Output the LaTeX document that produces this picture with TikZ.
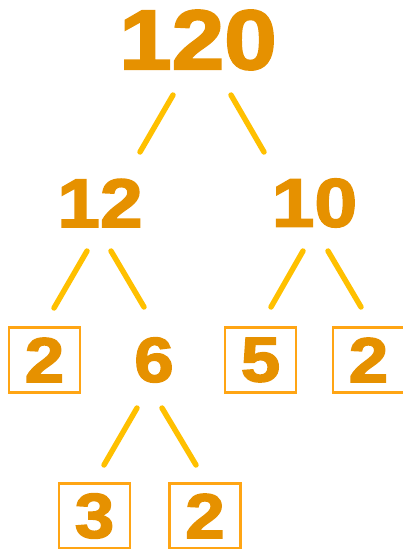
\documentclass[tikz,border=0pt]{standalone}
\usepackage{fontspec}
\newfontfamily\digitfont{Liberation Sans}[FakeStretch=1.12,FakeBold=2.5]
\usetikzlibrary{calc}
\definecolor{fac_orange}{RGB}{230,145,0}
\definecolor{box_orange}{RGB}{255,165,20}
\definecolor{branch_yellow}{RGB}{255,192,0}

\begin{document}
\begin{tikzpicture}[x=0.02cm, y=0.02cm,
      num/.style={text=fac_orange, inner sep=0pt,
        font=\digitfont\bfseries\fontsize{36}{36}\selectfont},
      top/.style={num, font=\digitfont\bfseries\fontsize{48}{48}\selectfont},
      mid/.style={num, font=\digitfont\bfseries\fontsize{39}{39}\selectfont},
      prime/.style={num, draw=box_orange, line width=1.2pt,
        minimum width=1.42cm, minimum height=1.30cm},
      branch/.style={draw=branch_yellow, line width=3.1pt, line cap=round}]

    \useasboundingbox (0,0) rectangle (403,-549);

    %% ---- the numbers ----------------------------------------------------
    \node[top]   (n120) at (198,-40)   {120};

    \node[mid]   (n12)  at (100,-203)  {12};
    \node[mid]   (n10)  at (314.5,-203) {10};

    \node[prime] (p2a)  at (44.5,-360) {2};
    \node[num]   (n6)   at (154,-360)  {6};
    \node[prime] (p5)   at (260.5,-360) {5};
    \node[prime] (p2b)  at (368.5,-360) {2};

    \node[prime] (p3)   at (94.5,-516) {3};
    \node[prime] (p2c)  at (205,-516)  {2};

    %% ---- the branches ---------------------------------------------------
    \draw[branch] ([shift={(-25,-55)}]n120.center) -- ([shift={(40,51)}]n12.center);
    \draw[branch] ([shift={(33,-55)}]n120.center) -- ([shift={(-50.5,51)}]n10.center);

    \draw[branch] ([shift={(-13,-48)}]n12.center) -- ([shift={(9.5,52)}]p2a.center);
    \draw[branch] ([shift={(11,-48)}]n12.center) -- ([shift={(-10,53)}]n6.center);
    \draw[branch] ([shift={(-11.5,-48)}]n10.center) -- ([shift={(10.5,53)}]p5.center);
    \draw[branch] ([shift={(13.5,-48)}]n10.center) -- ([shift={(-7.5,53)}]p2b.center);

    \draw[branch] ([shift={(-17,-48)}]n6.center) -- ([shift={(9.5,51)}]p3.center);
    \draw[branch] ([shift={(8,-48)}]n6.center) -- ([shift={(-9,51)}]p2c.center);
  \end{tikzpicture}
\end{document}
